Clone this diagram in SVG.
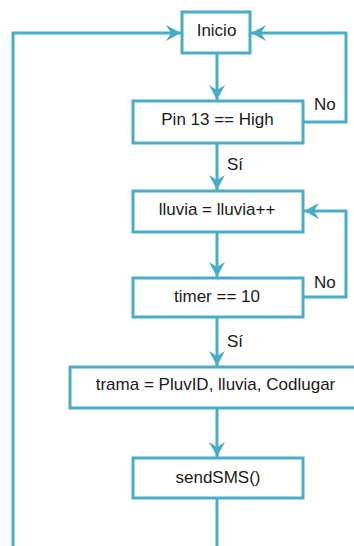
<svg xmlns="http://www.w3.org/2000/svg" width="354" height="546" viewBox="0 0 354 546">
<style>
.box{fill:#ffffff;stroke:#4BACC6;stroke-width:3}
.lbl{font-family:"Liberation Sans",Arial,sans-serif;font-size:17px;fill:#1a1a1a;text-anchor:middle}
.edge{font-family:"Liberation Sans",Arial,sans-serif;font-size:17px;fill:#1a1a1a}
.conn{fill:none;stroke:#4BACC6;stroke-width:3}
</style>
<defs>
<marker id="ah" markerWidth="16" markerHeight="16" refX="15" refY="8" orient="auto" markerUnits="userSpaceOnUse" viewBox="0 0 16 16">
<path d="M0,0 L15,8 L0,16 L5,8 z" fill="#4BACC6"/>
</marker>
</defs>
<rect width="354" height="546" fill="#ffffff"/>
<g id="connectors">
<path class="conn" d="M217,53 V100" marker-end="url(#ah)"/>
<path class="conn" d="M217,143 V190" marker-end="url(#ah)"/>
<path class="conn" d="M217,232 V277" marker-end="url(#ah)"/>
<path class="conn" d="M217,317 V366" marker-end="url(#ah)"/>
<path class="conn" d="M217,408 V457" marker-end="url(#ah)"/>
<path class="conn" d="M217,498 V546"/>
<path class="conn" d="M13,546 V33 H181" marker-end="url(#ah)"/>
<path class="conn" d="M303,122 H346 V33 H251" marker-end="url(#ah)"/>
<path class="conn" d="M303,297 H346 V211 H304" marker-end="url(#ah)"/>
<text class="edge" x="314" y="110">No</text>
<text class="edge" x="314" y="288">No</text>
<text class="edge" x="227" y="170">Sí</text>
<text class="edge" x="227" y="347">Sí</text>
</g>
<g id="inicio">
<rect class="box" x="182" y="12" width="68" height="41"/>
<text class="lbl" x="216.5" y="36">Inicio</text>
</g>
<g id="pin13">
<rect class="box" x="133" y="101" width="170" height="42"/>
<text class="lbl" x="217.5" y="124.5">Pin 13 == High</text>
</g>
<g id="lluvia">
<rect class="box" x="133" y="191" width="170" height="41"/>
<text class="lbl" x="217" y="214.5">lluvia = lluvia++</text>
</g>
<g id="timer">
<rect class="box" x="133" y="278" width="170" height="39"/>
<text class="lbl" x="217" y="302">timer == 10</text>
</g>
<g id="trama">
<rect class="box" x="70" y="367" width="292" height="41"/>
<text class="lbl" x="215.5" y="390">trama = PluvID, lluvia, Codlugar</text>
</g>
<g id="sendsms">
<rect class="box" x="133" y="458" width="170" height="40"/>
<text class="lbl" x="218" y="483">sendSMS()</text>
</g>
</svg>
